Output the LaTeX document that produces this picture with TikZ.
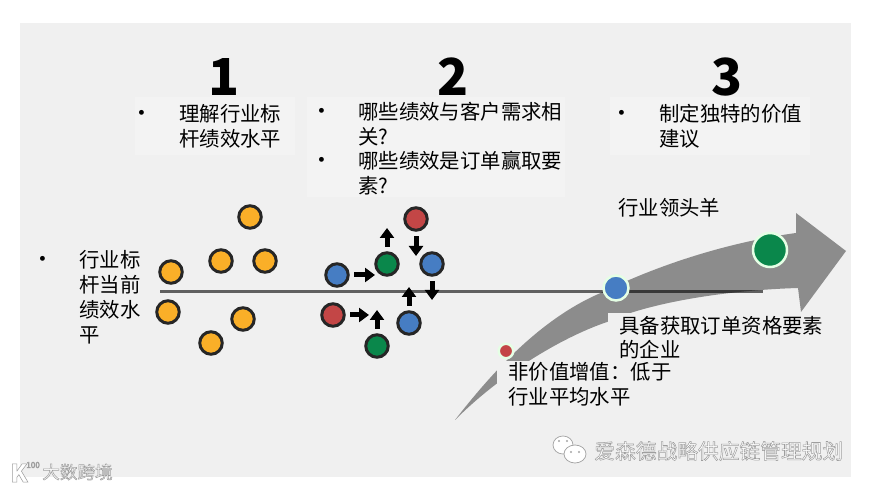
\documentclass[tikz,border=0pt]{standalone}
\usepackage{xcolor}
\usepackage{fontspec}
\setmainfont{Noto Sans CJK SC}
\usepackage{tikz}
\usetikzlibrary{arrows.meta, positioning, calc}
\definecolor{panelgray}{RGB}{240,240,240}
\definecolor{patchgray}{RGB}{243,243,243}
\definecolor{arrowgray}{RGB}{140,140,140}
\definecolor{dotorange}{RGB}{250,175,40}
\definecolor{dotblue}{RGB}{70,125,195}
\definecolor{dotgreen}{RGB}{10,135,75}
\definecolor{dotred}{RGB}{195,70,70}
\newcommand{\outlined}[1]{{\color{white}\special{pdf:code 2 Tr 0.3 w 0.62 G}#1\special{pdf:code 0 Tr}}}
\tikzset{
  dot/.style={circle, draw=black!85, line width=0.6mm, minimum size=4.5mm, inner sep=0pt},
  ringdot/.style={circle, draw=white!90!green, line width=0.5mm, inner sep=0pt},
  pusharrow/.style={line width=1mm, shorten <=0.9mm, -{Triangle[length=2mm,width=2.8mm]}},
  bodytext/.style={font=\fontsize{11.6}{14.2}\selectfont, align=left, inner sep=0pt, anchor=north west},
  patchtext/.style={bodytext, fill=panelgray},
  bulletmark/.style={font=\fontsize{13}{14.2}\selectfont, inner sep=0pt},
  bignum/.style={font=\fontsize{29}{29}\selectfont\bfseries, inner sep=0pt},
  watermark/.style={inner sep=0pt}
}
\begin{document}
\begin{tikzpicture}[x=0.2mm,y=-0.2mm]
\useasboundingbox (0,0) rectangle (873,489);
\fill[white] (0,0) rectangle (873,489);
\fill[panelgray] (20,23) rectangle (851,477);
\fill[patchgray] (135,97) rectangle (295,155);
\fill[patchgray] (307,97) rectangle (565,197);
\fill[patchgray] (610,97) rectangle (810,155);

% big arrow
\fill[arrowgray] (455,420) .. controls (490,375) and (540,318) .. (603,292)
  .. controls (660,264) and (730,242) .. (796,233) -- (796,213) -- (846,251) -- (801,312) -- (798,288)
  .. controls (730,290) and (650,302) .. (607,322) .. controls (560,338) and (500,375) .. (455,420) -- cycle;
\coordinate (linestart) at (160,292);
\coordinate (lineend) at (763,292);
\draw[black, opacity=0.6, line width=0.6mm] (linestart) -- (lineend);

% numbers
\node[bignum] (numa) at (224,77) {1};
\node[bignum] (numb) at (453,77) {2};
\node[bignum] (numc) at (727,77) {3};

% bullets and texts
\node[bulletmark] (bulleta) at (142,116) {•};
\node[bodytext] (texta) at (179,104) {理解行业标\\杆绩效水平};
\node[bulletmark] (bulletb) at (322,114) {•};
\node[bodytext] (textb) at (358,102) {哪些绩效与客户需求相\\关?};
\node[bulletmark] (bulletc) at (322,163) {•};
\node[bodytext] (textc) at (358,151) {哪些绩效是订单赢取要\\素?};
\node[bulletmark] (bulletd) at (622,116) {•};
\node[bodytext] (textd) at (659,104) {制定独特的价值\\建议};
\node[bodytext] (texte) at (618,198) {行业领头羊};
\node[bulletmark] (bullete) at (43,262) {•};
\node[bodytext] (textf) at (79,250) {行业标\\杆当前\\绩效水\\平};
\node[patchtext, inner xsep=2.2mm, inner ysep=0.5mm] (textg) at (608,313) {具备获取订单资格要素\\的企业};
\node[patchtext, inner xsep=2.2mm, inner ysep=0.2mm, text depth=0pt] (texth) at (497,361) {非价值增值：低于\\行业平均水平};

% dots
\foreach \name/\x/\y in {oa/250/217, ob/221/261, oc/265/261, od/171/272, oe/168/312, of/243/319, og/211/343}
  \node[dot, fill=dotorange] (\name) at (\x,\y) {};
\foreach \name/\x/\y in {bluea/337/275, blueb/432/264, bluec/409/323}
  \node[dot, fill=dotblue] (\name) at (\x,\y) {};
\foreach \name/\x/\y in {greena/387/264, greenb/377/346}
  \node[dot, fill=dotgreen] (\name) at (\x,\y) {};
\foreach \name/\x/\y in {reda/416/219, redb/333/315}
  \node[dot, fill=dotred] (\name) at (\x,\y) {};

\node[ringdot, fill=dotred, minimum size=2.9mm] (redc) at (506,351) {};
\node[ringdot, fill=dotblue, minimum size=5mm] (bluee) at (616,288) {};
\node[ringdot, fill=dotgreen, minimum size=6.8mm] (greene) at (770,250) {};

% small arrows
\coordinate (tipa) at (375,275);
\coordinate (tipb) at (387,228);
\coordinate (tipc) at (416,256);
\coordinate (tipd) at (432,300);
\coordinate (tipe) at (409,287);
\coordinate (tipf) at (369,315);
\coordinate (tipg) at (377,310);
\draw[pusharrow] (bluea) -- (tipa);
\draw[pusharrow] (greena) -- (tipb);
\draw[pusharrow] (reda) -- (tipc);
\draw[pusharrow] (blueb) -- (tipd);
\draw[pusharrow] (bluec) -- (tipe);
\draw[pusharrow] (redb) -- (tipf);
\draw[pusharrow] (greenb) -- (tipg);

% wechat mark
\fill[white, draw=black!35, line width=0.15mm] (563,445) ellipse (10 and 9);
\fill[white, draw=black!35, line width=0.15mm] (575,454) ellipse (11 and 9);
\fill[black!35] (559,441) circle (1.2) (567,441) circle (1.2) (571,452) circle (1.2) (579,452) circle (1.2);

% watermarks
\node[watermark, font=\fontsize{11.8}{14}\selectfont, anchor=west] (marka) at (594,451) {\outlined{爱森德战略供应链管理规划}};
\node[watermark, font=\fontsize{10}{12}\selectfont, anchor=west] (markb) at (42,472) {\outlined{大数跨境}};
\node[watermark, font=\fontsize{14}{16}\selectfont\bfseries, anchor=west] (logoa) at (10,473) {\outlined{K}};
\node[watermark, font=\fontsize{4.6}{6}\selectfont, anchor=west] (logob) at (26,465) {\outlined{100}};
\end{tikzpicture}
\end{document}
